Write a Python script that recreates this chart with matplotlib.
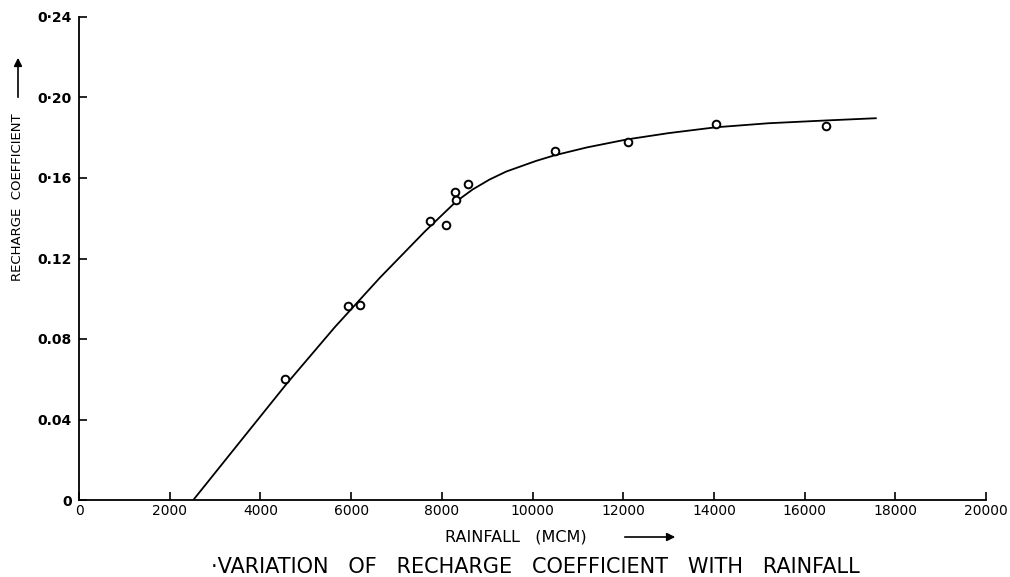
import matplotlib
matplotlib.use("Agg")
import matplotlib.pyplot as plt

# observed recharge coefficient vs annual rainfall
rain = [4550, 5940, 6200, 7730, 8100, 8290, 8310, 8580, 10490, 12100, 14040, 16470]
coef = [0.0600, 0.0965, 0.0970, 0.1385, 0.1367, 0.1531, 0.1491, 0.1572, 0.1735, 0.1780, 0.1866, 0.1858]

# fitted curve, read along its length
fit_x = [2520, 3535, 4580, 5645, 6637, 7630, 8310, 8680, 9050, 9420, 10080, 10490,
         11200, 12090, 13000, 14040, 15200, 16480, 17570]
fit_y = [0.0, 0.0285, 0.0578, 0.0860, 0.1105, 0.1335, 0.1482, 0.1543, 0.1592, 0.1632, 0.1685, 0.1713,
         0.1752, 0.1792, 0.1823, 0.1852, 0.1872, 0.1886, 0.1897]

xticks = [0, 2000, 4000, 6000, 8000, 10000, 12000, 14000, 16000, 18000, 20000]
xlabels = ["0", "2000", "4000", "6000", "8000", "10000", "12000", "14000", "16000", "18000", "20000"]
yticks = [0, 0.04, 0.08, 0.12, 0.16, 0.20, 0.24]
ylabels = ["0", "0.04", "0.08", "0.12", "0\u00b716", "0\u00b720", "0\u00b724"]

W, H = 1010, 577
fig = plt.figure(figsize=(W/100, H/100), dpi=100)
ax = fig.add_axes([79/W, 1-500/H, (986-79)/W, (500-17)/H])

ax.plot(fit_x, fit_y, color="black", lw=1.3, solid_joinstyle="round")
ax.plot(rain, coef, "o", ms=5.5, mfc="white", mec="black", mew=1.4)

ax.set_xlim(0, 20000)
ax.set_ylim(0, 0.24)
ax.spines["top"].set_visible(False)
ax.spines["right"].set_visible(False)
for s in ("left", "bottom"):
    ax.spines[s].set_linewidth(1.3)

ax.set_xticks(xticks)
ax.set_xticklabels(xlabels, fontsize=10)
ax.set_yticks(yticks)
ax.set_yticklabels(ylabels, fontsize=10, fontweight="bold")
ax.tick_params(axis="x", direction="in", length=6, width=1.2, pad=3)
ax.tick_params(axis="y", direction="in", length=6, width=1.2, pad=5)

# axis captions with arrows
fig.text(18/W, 1-197/H, "RECHARGE  COEFFICIENT", rotation=90, ha="center", va="center", fontsize=9.5)
fig.add_artist(matplotlib.patches.FancyArrowPatch((18/W, 1-100/H), (18/W, 1-55/H),
               transform=fig.transFigure, arrowstyle="-|>", mutation_scale=12, lw=1.2, color="black"))
fig.text(445/W, 1-537/H, "RAINFALL   (MCM)", ha="left", va="center", fontsize=11.5)
fig.add_artist(matplotlib.patches.FancyArrowPatch((622/W, 1-537/H), (678/W, 1-537/H),
               transform=fig.transFigure, arrowstyle="-|>", mutation_scale=12, lw=1.2, color="black"))

fig.text(535/W, 1-567/H, "\u00b7VARIATION   OF   RECHARGE   COEFFICIENT   WITH   RAINFALL",
         ha="center", va="center", fontsize=15)

fig.savefig("out.png", dpi=100)
